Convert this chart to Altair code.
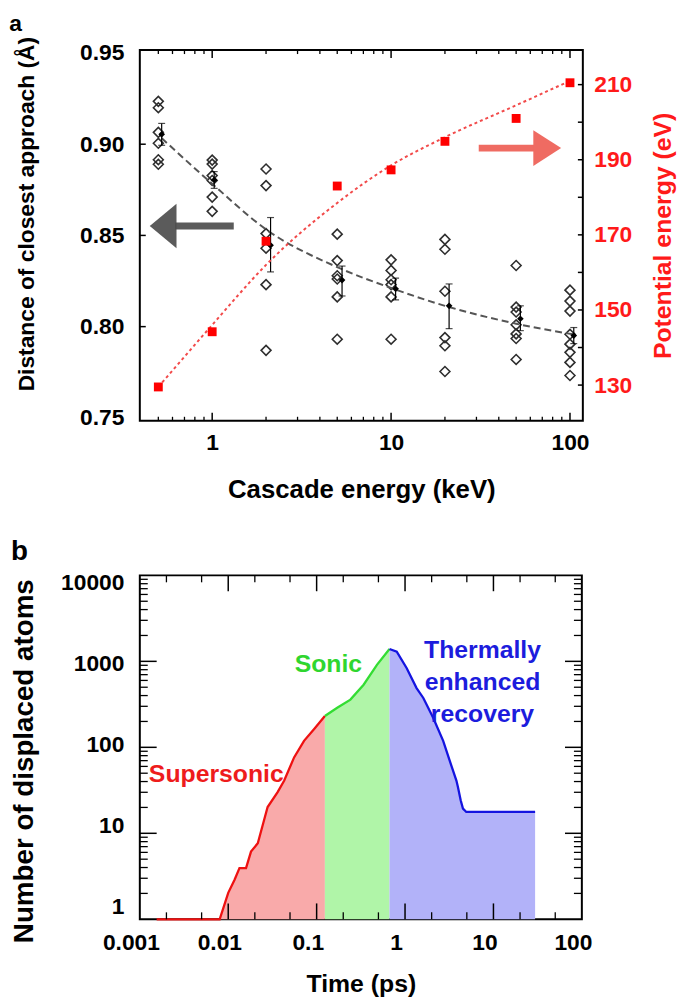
import altair as alt
import pandas as pd

# ---------------- Panel a data ----------------
energies = [0.5, 1, 2, 5, 10, 20, 50, 100]
samples_05 = [0.9235, 0.920, 0.9065, 0.9005, 0.8915, 0.889]
samples_1 = [0.8913, 0.8891, 0.8828, 0.8801, 0.8710, 0.8632]
samples_2 = [0.8864, 0.8773, 0.851, 0.843, 0.823, 0.787]
samples_5 = [0.8507, 0.8362, 0.8279, 0.8261, 0.8163, 0.7931]
samples_10 = [0.8366, 0.8308, 0.8257, 0.8230, 0.8163, 0.7931]
samples_20 = [0.8478, 0.8424, 0.8194, 0.794, 0.7895, 0.7754]
samples_50 = [0.8335, 0.8107, 0.808, 0.801, 0.796, 0.7935, 0.782]
samples_100 = [0.82, 0.814, 0.8085, 0.7958, 0.7904, 0.7859, 0.7804, 0.7732]

mean_E = [0.522, 1.026, 2.12, 5.32, 10.6, 21.1, 52.8, 105]
mean_d = [0.9054, 0.8804, 0.8446, 0.8255, 0.8207, 0.8114, 0.8043, 0.7951]
err_hi = [0.9114, 0.885, 0.8598, 0.8332, 0.8266, 0.8234, 0.8114, 0.7995]
err_lo = [0.8994, 0.8758, 0.830, 0.8168, 0.8147, 0.7989, 0.7978, 0.7907]

fit_E = [0.522, 1, 2, 5, 10, 20, 50, 105]
fit_d = [0.9033, 0.8783, 0.8533, 0.8326, 0.8212, 0.8114, 0.8016, 0.7957]

pe_E = [0.5, 1, 2, 5, 10, 20, 50, 100]
pe_val = [129.5, 144.2, 168.3, 183.0, 187.3, 194.9, 201.0, 210.5]
pe_fit = [129.5, 146, 162, 178.5, 188.5, 196, 204.5, 211]

# ---------------- Panel b data ----------------
t_super = [0.00155, 0.0080, 0.0100, 0.0118, 0.0134, 0.0159, 0.0181, 0.0216, 0.0279,
           0.0362, 0.043, 0.0556, 0.072, 0.0933, 0.124]
n_super = [1, 1, 2.03, 2.89, 3.94, 3.94, 6.13, 7.66, 20.2, 30.1, 41.1, 76.3, 118.9, 162, 231]
t_sonic = [0.124, 0.171, 0.241, 0.340, 0.481, 0.667]
n_sonic = [231, 288, 359, 535, 910, 1390]
t_thermal = [0.667, 0.806, 1.045, 1.35, 1.61, 2.08, 2.7, 3.2, 3.81, 3.97, 4.26, 4.52, 4.93, 29.6]
n_thermal = [1390, 1295, 832, 489, 375, 221, 119, 69.9, 41.1, 34.4, 24.2, 19.4, 17.7, 17.7]

FONT = "Liberation Sans"
W1, H1 = 447, 374
W2, H2 = 446, 347

# ================= Panel a =================
rows = []
for e, vals in zip(energies, [samples_05, samples_1, samples_2, samples_5, samples_10,
                              samples_20, samples_50, samples_100]):
    for v in vals:
        rows.append({"E": e, "d": v})
df_samp = pd.DataFrame(rows)
df_mean = pd.DataFrame({"E": mean_E, "d": mean_d, "lo": err_lo, "hi": err_hi})
df_fit = pd.DataFrame({"E": fit_E, "d": fit_d})
df_pe = pd.DataFrame({"E": pe_E, "pe": pe_val})
df_pefit = pd.DataFrame({"E": pe_E, "pe": pe_fit})

xs1 = alt.Scale(type="log", domain=[0.394, 118], nice=False)
yL = alt.Scale(domain=[0.7484, 0.9516], nice=False, zero=False)
yR = alt.Scale(domain=[120.5, 219.2], nice=False, zero=False)

axX1 = alt.Axis(values=[1, 10, 100], format="d", ticks=False, tickSize=0, domain=False,
                grid=False, labelPadding=11, titlePadding=22, labelFontSize=23,
                titleFontSize=26, labelFlush=False)
axL = alt.Axis(values=[0.75, 0.80, 0.85, 0.90, 0.95], format=".2f", ticks=False,
               tickSize=0, domain=False, grid=False, labelPadding=16, titlePadding=41,
               labelFontSize=23, titleFontSize=23, titleY=165, labelFlush=False)
axR = alt.Axis(values=[130, 150, 170, 190, 210], format="d", ticks=False, tickSize=0,
               domain=False, grid=False, orient="right", labelPadding=11,
               titlePadding=44, labelFontSize=23, titleFontSize=25,
               labelColor="#ff1a1a", titleColor="#ff1a1a", titleAngle=270,
               labelFlush=False)


def X1(field):
    return alt.X(field, type="quantitative", scale=xs1, axis=axX1,
                 title="Cascade energy (keV)")


def YL(field):
    return alt.Y(field, type="quantitative", scale=yL, axis=axL,
                 title="Distance of closest approach (Å)")


def YR(field):
    return alt.Y(field, type="quantitative", scale=yR, axis=axR,
                 title="Potential energy (eV)")


diamonds = alt.Chart(df_samp).mark_point(shape="diamond", filled=False, color="#2e2e2e",
                                          strokeWidth=1.6, size=100, opacity=1).encode(
    x=X1("E"), y=YL("d"))
fitline = alt.Chart(df_fit).mark_line(color="#555555", strokeWidth=2,
                                      strokeDash=[7, 4], interpolate="monotone").encode(
    x=X1("E"), y=YL("d"))
errbar = alt.Chart(df_mean).mark_rule(color="black", strokeWidth=1.2).encode(
    x=X1("E"), y=YL("lo"), y2="hi")
cap_lo = alt.Chart(df_mean).mark_tick(orient="horizontal", size=7, thickness=1.2,
                                      color="black").encode(x=X1("E"), y=YL("lo"))
cap_hi = alt.Chart(df_mean).mark_tick(orient="horizontal", size=7, thickness=1.2,
                                      color="black").encode(x=X1("E"), y=YL("hi"))
means = alt.Chart(df_mean).mark_point(shape="diamond", filled=True, color="black",
                                      size=45, opacity=1).encode(x=X1("E"), y=YL("d"))

# gray arrow (pointing left)
df_garrow = pd.DataFrame({"E": [0.62], "E2": [1.32], "d": [0.8552]})
df_ghead = pd.DataFrame({"E": [0.532], "d": [0.8552]})
gshaft = alt.Chart(df_garrow).mark_rule(color="#4d4d4d", strokeWidth=7, opacity=0.92).encode(
    x=X1("E"), x2="E2", y=YL("d"))
ghead = alt.Chart(df_ghead).mark_point(shape="M-0.6,0L0.6,-1L0.6,1Z", filled=True,
                                       color="#4d4d4d", size=2025, opacity=0.92).encode(
    x=X1("E"), y=YL("d"))

# inward ticks
df_lt = pd.DataFrame({"v": [0.80, 0.85, 0.90]})
lticks = alt.Chart(df_lt).mark_rule(color="black", strokeWidth=1.5).encode(
    y=YL("v"), x=alt.value(0), x2=alt.value(6))
maj1 = [1, 10, 100]
min1 = [0.5, 0.6, 0.7, 0.8, 0.9] + [2, 3, 4, 5, 6, 7, 8, 9] + [20, 30, 40, 50, 60, 70, 80, 90]
df_xt1M = pd.DataFrame({"E": maj1})
df_xt1m = pd.DataFrame({"E": min1})
xt_bM = alt.Chart(df_xt1M).mark_rule(color="black", strokeWidth=1.5).encode(
    x=X1("E"), y=alt.value(H1), y2=alt.value(H1 - 8))
xt_bm = alt.Chart(df_xt1m).mark_rule(color="black", strokeWidth=1.3).encode(
    x=X1("E"), y=alt.value(H1), y2=alt.value(H1 - 4))
xt_tM = alt.Chart(df_xt1M).mark_rule(color="black", strokeWidth=1.5).encode(
    x=X1("E"), y=alt.value(0), y2=alt.value(8))
xt_tm = alt.Chart(df_xt1m).mark_rule(color="black", strokeWidth=1.3).encode(
    x=X1("E"), y=alt.value(0), y2=alt.value(4))

left = alt.layer(diamonds, fitline, errbar, cap_lo, cap_hi, means, gshaft, ghead,
                 lticks, xt_bM, xt_bm, xt_tM, xt_tm)

pefit = alt.Chart(df_pefit).mark_line(color="#f24a4a", strokeWidth=2, strokeDash=[3, 3],
                                       interpolate="monotone").encode(
    x=X1("E"), y=YR("pe"))
pesq = alt.Chart(df_pe).mark_square(color="#ff0000", size=80, opacity=1).encode(
    x=X1("E"), y=YR("pe"))
df_rarrow = pd.DataFrame({"E": [30.9], "E2": [64.8], "pe": [193.1]})
df_rhead = pd.DataFrame({"E": [74.6], "pe": [193.1]})
rshaft = alt.Chart(df_rarrow).mark_rule(color="#ef6b62", strokeWidth=7).encode(
    x=X1("E"), x2="E2", y=YR("pe"))
rhead = alt.Chart(df_rhead).mark_point(shape="M0.78,0L-0.78,-1L-0.78,1Z", filled=True,
                                       color="#ef6b62", size=1296, opacity=1).encode(
    x=X1("E"), y=YR("pe"))
df_rt = pd.DataFrame({"v": [130, 140, 150, 160, 170, 180, 190, 200, 210]})
rticks = alt.Chart(df_rt).mark_rule(color="black", strokeWidth=1.5).encode(
    y=YR("v"), x=alt.value(W1), x2=alt.value(W1 - 5))

right = alt.layer(pefit, pesq, rshaft, rhead, rticks)

panel_a = alt.layer(left, right).resolve_scale(y="independent").properties(
    width=W1, height=H1,
    title=alt.TitleParams("a", anchor="start", frame="bounds", fontSize=23,
                          fontWeight="bold", font=FONT, offset=0, dx=-7))

# ================= Panel b =================
df_sup = pd.DataFrame({"t": t_super, "n": n_super})
df_son = pd.DataFrame({"t": t_sonic, "n": n_sonic})
df_the = pd.DataFrame({"t": t_thermal, "n": n_thermal})

xs2 = alt.Scale(type="log", domain=[0.001, 100], nice=False)
ys2 = alt.Scale(type="log", domain=[1, 10000], nice=False)
axX2 = alt.Axis(values=[0.001, 0.01, 0.1, 1, 10, 100], format="~g", ticks=False,
                tickSize=0, domain=False, grid=False, labelPadding=12, titlePadding=18,
                labelFontSize=23, titleFontSize=25, labelOffset=-9, labelFlush=False)
axY2 = alt.Axis(values=[1, 10, 100, 1000, 10000], format="d", ticks=False, tickSize=0,
                domain=False, grid=False, labelPadding=16, titlePadding=22,
                labelFontSize=23, titleFontSize=28, titleY=187, labelFlush=False,
                labelOffset={"expr": "5 * log(datum.value) / LN10 - 13"})


def X2(field):
    return alt.X(field, type="quantitative", scale=xs2, axis=axX2, title="Time (ps)")


def Y2(field):
    return alt.Y(field, type="quantitative", scale=ys2, axis=axY2,
                 title="Number of displaced atoms")


def seg(df, fill, stroke):
    area = alt.Chart(df).mark_area(color=fill, opacity=1).encode(
        x=X2("t"), y=Y2("n"), y2=alt.datum(1))
    line = alt.Chart(df).mark_line(color=stroke, strokeWidth=2.3).encode(
        x=X2("t"), y=Y2("n"))
    return area, line


a1, l1 = seg(df_sup, "#f9aaaa", "#ee1111")
a2, l2 = seg(df_son, "#b0f5a8", "#33dd33")
a3, l3 = seg(df_the, "#b2b2f9", "#1414e0")

labels_b = pd.DataFrame({
    "t": [0.00733, 0.136, 7.52, 7.52, 7.52],
    "n": [49.5, 918, 1366, 569, 243],
    "txt": ["Supersonic", "Sonic", "Thermally", "enhanced", "recovery"],
    "c": ["#ee1c1c", "#2fd62f", "#1c1cdd", "#1c1cdd", "#1c1cdd"],
})
texts_b = alt.Chart(labels_b).mark_text(font=FONT, fontSize=25, fontWeight="bold",
                                        align="center", baseline="middle").encode(
    x=X2("t"), y=Y2("n"), text="txt:N", color=alt.Color("c:N", scale=None))

xmaj2 = [0.01, 0.1, 1, 10]
xmin2 = [0.002, 0.005, 0.02, 0.05, 0.2, 0.5, 2, 5, 20, 50]
ymaj2 = [10, 100, 1000]
ymin2 = [m * d for d in [1, 10, 100, 1000] for m in [2, 3, 4, 5, 6, 7, 8, 9]]
df_xM2 = pd.DataFrame({"t": xmaj2})
df_xm2 = pd.DataFrame({"t": xmin2})
df_yM2 = pd.DataFrame({"n": ymaj2})
df_ym2 = pd.DataFrame({"n": ymin2})


def xt(df, y0, y1, w):
    return alt.Chart(df).mark_rule(color="black", strokeWidth=w).encode(
        x=X2("t"), y=alt.value(y0), y2=alt.value(y1))


def yt(df, x0, x1, w):
    return alt.Chart(df).mark_rule(color="black", strokeWidth=w).encode(
        y=Y2("n"), x=alt.value(x0), x2=alt.value(x1))


ticks_b = [
    xt(df_xM2, H2, H2 - 16, 1.5), xt(df_xm2, H2, H2 - 7, 1.3),
    xt(df_xM2, 0, 16, 1.5), xt(df_xm2, 0, 7, 1.3),
    yt(df_yM2, 0, 17, 1.5), yt(df_ym2, 0, 8, 1.3),
    yt(df_yM2, W2, W2 - 17, 1.5), yt(df_ym2, W2, W2 - 8, 1.3),
]

panel_b = alt.layer(a1, a2, a3, l1, l2, l3, texts_b, *ticks_b).properties(
    width=W2, height=H2,
    title=alt.TitleParams("b", anchor="start", frame="bounds", fontSize=28,
                          fontWeight="bold", font=FONT, offset=6, dx=0))

chart = alt.vconcat(panel_a, panel_b, spacing=34).configure(
    font=FONT, padding=0
).configure_view(stroke="black", strokeWidth=2).configure_axis(
    labelFont=FONT, titleFont=FONT, labelFontWeight="bold", titleFontWeight="bold",
    labelColor="black", titleColor="black"
).configure_axisRight(labelColor="#ff1a1a", titleColor="#ff1a1a")

chart.save("out.html", embed_options={"renderer": "svg", "actions": False})
